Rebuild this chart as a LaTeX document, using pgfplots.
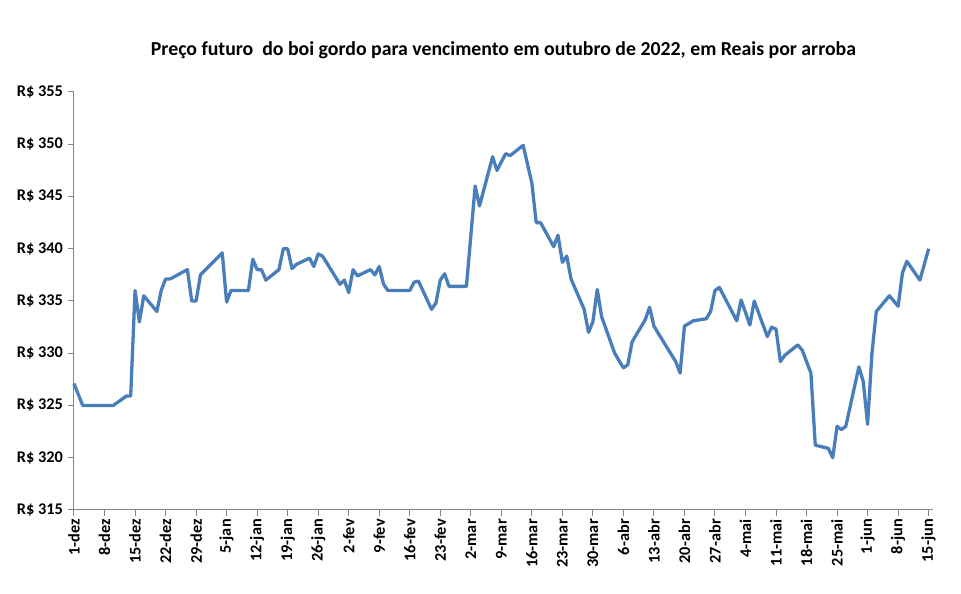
\documentclass[border=0pt]{standalone}
\usepackage{fontspec}
\setmainfont{Carlito}
\usepackage{pgfplots}
\pgfplotsset{compat=1.18}
\definecolor{linecol}{RGB}{74,126,187}
\definecolor{axgray}{RGB}{134,134,134}
\begin{document}
\begin{tikzpicture}[x=1pt,y=1pt]
\path[use as bounding box] (-74pt,-84pt) rectangle (887pt,510pt);
\begin{axis}[
  scale only axis,
  width=859pt, height=418pt,
  xmin=0, xmax=197,
  ymin=315, ymax=355,
  axis x line*=bottom, axis y line*=left,
  axis line style={axgray, line width=1pt},
  x axis line style={-}, y axis line style={-},
  xtick={0,7,...,196},
  xticklabels={1-dez,8-dez,15-dez,22-dez,29-dez,5-jan,12-jan,19-jan,26-jan,2-fev,9-fev,16-fev,23-fev,2-mar,9-mar,16-mar,23-mar,30-mar,6-abr,13-abr,20-abr,27-abr,4-mai,11-mai,18-mai,25-mai,1-jun,8-jun,15-jun},
  ytick={315,320,...,355},
  yticklabel={R\$ \pgfmathprintnumber{\tick}},
  tick style={axgray, line width=1pt},
  tick align=outside,
  major tick length=6pt,
  every tick label/.append style={font=\fontsize{16.3}{18}\selectfont\bfseries},
  xticklabel style={rotate=90, anchor=east, inner sep=3pt},
  yticklabel style={inner sep=5pt},
  /pgf/number format/assume math mode=true,
  title={\fontsize{19.8}{22}\selectfont\bfseries Preço futuro\ \ do boi gordo para vencimento em outubro de 2022, em Reais por arroba},
  title style={at={(0.5,1)}, anchor=center, yshift=36pt},
  clip=false,
]
\addplot[linecol, line width=3.3pt, line join=round, mark=none] coordinates {
(0,327.1)(2,325.0)(9,325.0)(12,325.9)(13,325.9)(14,336.0)(15,333.0)(16,335.5)
(19,334.0)(20,336.0)(21,337.1)(22,337.1)(26,338.0)(27,335.0)(28,335.0)(29,337.5)
(34,339.6)(35,334.9)(36,336.0)(40,336.0)(41,339.0)(42,338.0)(43,338.0)(44,337.0)
(47,338.0)(48,340.0)(49,340.0)(50,338.1)(51,338.5)(54,339.1)(55,338.3)(56,339.5)
(57,339.3)(61,336.6)(62,337.0)(63,335.8)(64,338.0)(65,337.4)(68,338.0)(69,337.5)
(70,338.3)(71,336.6)(72,336.0)(77,336.0)(78,336.8)(79,336.9)(82,334.2)(83,334.8)
(84,337.0)(85,337.6)(86,336.4)(90,336.4)(92,346.0)(93,344.1)(96,348.8)(97,347.5)
(99,349.1)(100,348.9)(103,349.9)(105,346.3)(106,342.5)(107,342.5)(110,340.2)(111,341.3)
(112,338.7)(113,339.3)(114,337.1)(117,334.2)(118,332.0)(119,333.0)(120,336.1)(121,333.5)
(124,330.0)(126,328.6)(127,328.9)(128,331.1)(131,333.2)(132,334.4)(133,332.6)(134,331.9)
(138,329.2)(139,328.1)(140,332.6)(142,333.1)(145,333.3)(146,334.0)(147,336.0)(148,336.3)
(152,333.1)(153,335.1)(155,332.7)(156,335.0)(159,331.6)(160,332.5)(161,332.3)(162,329.2)
(163,329.8)(166,330.8)(167,330.3)(169,328.1)(170,321.2)(173,320.9)(174,320.0)(175,323.0)
(176,322.7)(177,323.0)(180,328.7)(181,327.3)(182,323.2)(183,330.0)(184,334.0)(187,335.5)
(189,334.5)(190,337.7)(191,338.8)(194,337.0)(195,338.5)(196,340.0)
};
\end{axis}
\end{tikzpicture}
\end{document}
